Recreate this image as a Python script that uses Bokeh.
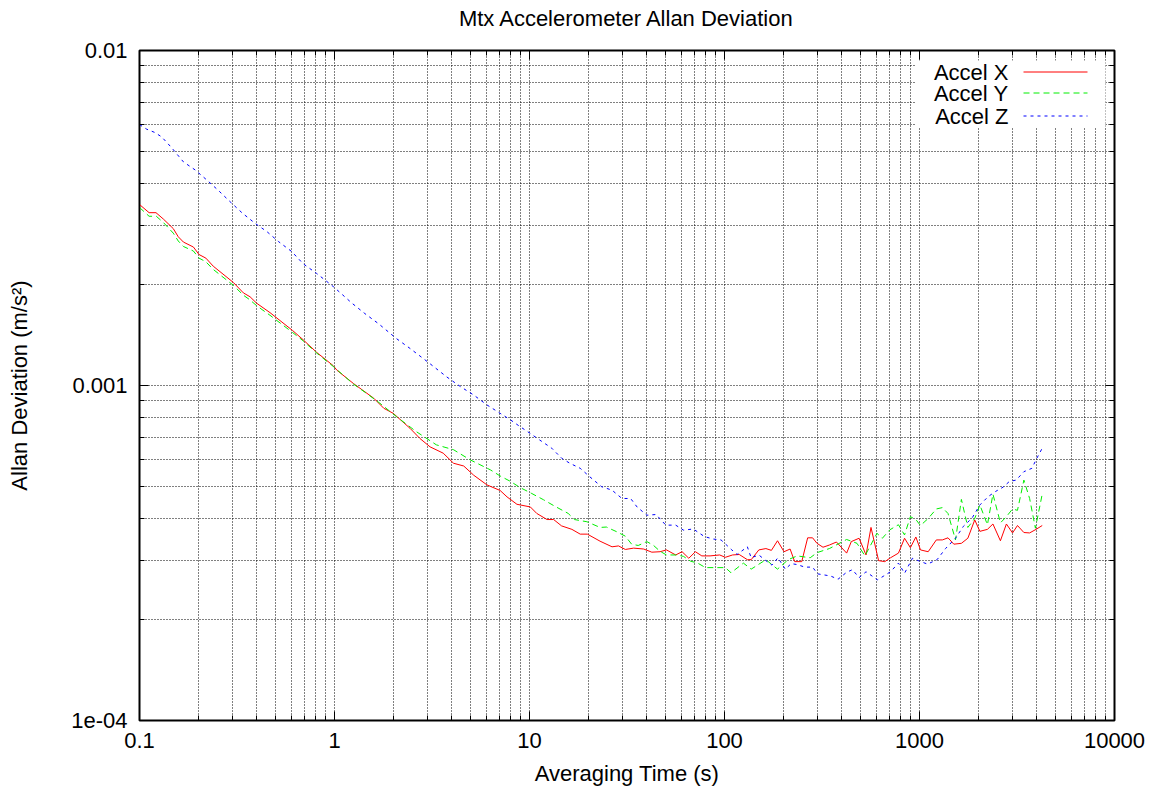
from bokeh.plotting import figure
from bokeh.models import (LogAxis, FixedTicker, CustomJSTickFormatter, Label, Arrow, Range1d,
                          BoxAnnotation)
from bokeh.embed import file_html
from bokeh.resources import INLINE

# ---------------- data ----------------
tau_x = [0.1, 0.112, 0.1215, 0.1325, 0.149, 0.158, 0.168, 0.189, 0.202, 0.219, 0.239,
         0.303, 0.341, 0.369, 0.399, 0.467, 0.609, 0.69, 0.81, 0.985, 1.03, 1.25, 1.59,
         1.79, 2.0, 2.44, 2.74, 3.09, 3.61, 4.08, 4.6, 5.17, 6.05, 7.07, 7.67, 8.62, 10.1,
         10.9, 12.3, 13.3, 14.6, 16.5, 18.2, 19.8, 23, 26.5, 28.6, 31, 34.2, 38.5, 42.4,
         46.7, 50.4, 56.2, 60.6, 65.6, 70.9, 76.5, 84.3, 94.5, 101, 110, 119, 131, 137,
         150, 163, 174, 187, 202, 217, 229, 249, 267, 283, 298, 320, 345, 375, 423, 447,
         490, 532, 564, 617, 664, 710, 780, 838, 898, 958, 1012, 1108, 1220, 1310, 1400,
         1500, 1640, 1770, 1920, 2040, 2230, 2380, 2600, 2790, 3000, 3180, 3430, 3670,
         3960, 4260]
accel_x = [0.00347, 0.00328, 0.00328, 0.00314, 0.00294, 0.00278, 0.00268, 0.00259, 0.00246,
           0.0024, 0.00227, 0.00203, 0.00189, 0.00184, 0.00176, 0.00165, 0.00146, 0.00137,
           0.001256, 0.001146, 0.00111, 0.001014, 0.000916, 0.000855, 0.000826, 0.000745,
           0.000695, 0.000656, 0.000628, 0.000586, 0.000575, 0.00054, 0.000505, 0.000486,
           0.000465, 0.000442, 0.000434, 0.000415, 0.000398, 0.000398, 0.000381, 0.000372,
           0.00036, 0.00036, 0.000343, 0.00033, 0.000332, 0.000324, 0.000327, 0.000325,
           0.000318, 0.000319, 0.000323, 0.000312, 0.000319, 0.000305, 0.000319, 0.00031,
           0.00031, 0.000312, 0.000307, 0.000312, 0.000313, 0.000302, 0.000302, 0.000323,
           0.000326, 0.000322, 0.000344, 0.000319, 0.000325, 0.000298, 0.000298, 0.000351,
           0.000351, 0.000338, 0.000329, 0.000334, 0.000341, 0.000316, 0.000342, 0.00035,
           0.000312, 0.000377, 0.0003, 0.000298, 0.000306, 0.000316, 0.00035, 0.000328,
           0.000353, 0.000323, 0.000319, 0.000346, 0.000346, 0.000351, 0.000336, 0.000338,
           0.00035, 0.000397, 0.000367, 0.000372, 0.000386, 0.000344, 0.000386, 0.000363,
           0.000382, 0.000364, 0.000363, 0.000372, 0.000382]

tau_y = [0.1, 0.112, 0.122, 0.133, 0.149, 0.158, 0.168, 0.189, 0.202, 0.219, 0.239, 0.303,
         0.341, 0.369, 0.399, 0.467, 0.609, 0.69, 0.81, 0.985, 1.25, 1.45, 1.71, 2.08, 2.63,
         3.33, 4.08, 4.96, 6.3, 7.07, 8.0, 8.94, 10.2, 11.8, 13.4, 15.8, 17.0, 19.7, 23,
         24.8, 28, 31, 33.4, 36.1, 40, 43.3, 46.7, 50.4, 57, 61.6, 66.9, 72.9, 79.9, 91.3,
         101, 108, 125, 137, 163, 187, 212, 236, 275, 298, 345, 423, 478, 525, 605, 645,
         705, 780, 838, 898, 958, 1012, 1108, 1220, 1310, 1400, 1530, 1640, 1770, 1920,
         2040, 2230, 2380, 2600, 2790, 3000, 3180, 3430, 3670, 3930, 4260]
accel_y = [0.0034, 0.0032, 0.0032, 0.00306, 0.00285, 0.0027, 0.0026, 0.00252, 0.0024,
           0.00234, 0.00222, 0.00199, 0.00186, 0.0018, 0.00173, 0.00162, 0.00144, 0.00136,
           0.00125, 0.00114, 0.00101, 0.00095, 0.000885, 0.000807, 0.000728, 0.000665,
           0.000643, 0.0006, 0.00056, 0.000537, 0.000517, 0.000496, 0.000477, 0.000456,
           0.000437, 0.000415, 0.000398, 0.000392, 0.000377, 0.000378, 0.000366, 0.000355,
           0.000336, 0.000333, 0.000342, 0.000333, 0.00032, 0.000312, 0.000312, 0.000309,
           0.000299, 0.000295, 0.000286, 0.000286, 0.000286, 0.000276, 0.000295, 0.000283,
           0.000302, 0.000283, 0.000302, 0.00031, 0.000306, 0.000317, 0.000326, 0.000347,
           0.000338, 0.00031, 0.000362, 0.00035, 0.000371, 0.000384, 0.000358, 0.000406,
           0.000398, 0.000382, 0.000401, 0.000428, 0.000432, 0.000415, 0.000346, 0.000457,
           0.000377, 0.000401, 0.00044, 0.000384, 0.000474, 0.000389, 0.000406, 0.000428,
           0.000424, 0.000522, 0.00046, 0.000375, 0.000474]

tau_z = [0.1, 0.109, 0.12, 0.13, 0.146, 0.168, 0.193, 0.221, 0.254, 0.291, 0.337, 0.391,
         0.45, 0.516, 0.604, 0.69, 0.81, 0.99, 1.23, 1.43, 1.68, 2.08, 2.44, 3.04, 3.77,
         4.44, 5.17, 6.05, 7.07, 8.0, 8.94, 10.1, 11.3, 13.0, 14.6, 16.1, 18.2, 20.3, 23.4,
         26.5, 29.8, 33, 35.6, 40, 44.6, 50, 56.2, 61.6, 69.2, 78.9, 87.8, 96, 109, 116,
         131, 137, 150, 163, 175, 188, 205, 220, 236, 258, 283, 300, 350, 382, 423, 453,
         490, 532, 608, 656, 710, 780, 838, 920, 1000, 1100, 1230, 1360, 1530, 1680, 1860,
         2040, 2250, 2460, 2680, 2890, 3130, 3430, 3770, 4000, 4260]
accel_z = [0.00601, 0.00582, 0.00569, 0.00552, 0.00513, 0.00465, 0.0044, 0.00411, 0.00382,
           0.00354, 0.00327, 0.00305, 0.00288, 0.00269, 0.00251, 0.00231, 0.00216, 0.00197,
           0.00176, 0.00164, 0.00153, 0.00138, 0.00129, 0.00117, 0.00106, 0.000991,
           0.000937, 0.000875, 0.000826, 0.000789, 0.000754, 0.000719, 0.000687, 0.00065,
           0.000607, 0.000586, 0.000566, 0.000535, 0.000499, 0.000487, 0.00046, 0.00046,
           0.000434, 0.00041, 0.000412, 0.000383, 0.000383, 0.00037, 0.000373, 0.000354,
           0.000348, 0.000346, 0.000323, 0.000313, 0.00033, 0.000306, 0.000312, 0.0003,
           0.000291, 0.000306, 0.000283, 0.000294, 0.000292, 0.000287, 0.000287, 0.000274,
           0.00027, 0.000264, 0.000277, 0.000282, 0.000267, 0.000278, 0.000263, 0.00027,
           0.000278, 0.000295, 0.000275, 0.000305, 0.000299, 0.000293, 0.000302, 0.000326,
           0.00035, 0.00038, 0.000402, 0.00044, 0.000466, 0.000483, 0.000497, 0.000517,
           0.000522, 0.000553, 0.000566, 0.000607, 0.00065]

series_names = ["Accel X", "Accel Y", "Accel Z"]
series_colors = ["#ff0000", "#00ee00", "#0000ff"]
series_dashes = ["solid", "6 4", "3 4"]

x_major = [0.1, 1, 10, 100, 1000, 10000]
y_major = [1e-4, 1e-3, 1e-2]

title_text = "Mtx Accelerometer Allan Deviation"
x_label = "Averaging Time (s)"
y_label = "Allan Deviation (m/s\u00b2)"

FONT = "Liberation Sans"
FS = "22px"

x_minor = [m * d for d in x_major[:-1] for m in range(2, 10)]
y_minor = [m * d for d in y_major[:-1] for m in range(2, 10)]

p = figure(width=1157, height=793, x_axis_type="log", y_axis_type="log",
           x_range=Range1d(0.1, 10000), y_range=Range1d(1e-4, 1e-2),
           output_backend="svg", toolbar_location=None,
           min_border_left=139, min_border_right=43, min_border_top=50,
           min_border_bottom=73, background_fill_color="white",
           border_fill_color="white")

xt = FixedTicker(ticks=x_major, minor_ticks=x_minor)
yt = FixedTicker(ticks=y_major, minor_ticks=y_minor)
xfmt = CustomJSTickFormatter(code="return String(Number(tick.toPrecision(6)));")
yfmt = CustomJSTickFormatter(code="if (tick < 5e-4) { return '1e-04'; } return String(Number(tick.toPrecision(6)));")
blank = CustomJSTickFormatter(code="return '';")


def style_axis(ax):
    ax.axis_line_color = "black"
    ax.axis_line_width = 1
    ax.major_tick_in = 9
    ax.major_tick_out = 0
    ax.minor_tick_in = 5
    ax.minor_tick_out = 0
    ax.major_tick_line_color = "black"
    ax.minor_tick_line_color = "black"
    ax.major_label_text_font = FONT
    ax.major_label_text_font_size = FS
    ax.major_label_text_color = "black"
    ax.major_label_standoff = 12
    ax.axis_label_text_font = FONT
    ax.axis_label_text_font_style = "normal"
    ax.axis_label_text_color = "black"
    ax.axis_label_text_font_size = FS


xa = p.xaxis[0]
xa.ticker = xt
xa.formatter = xfmt
xa.axis_label = x_label
style_axis(xa)
xa.axis_label_standoff = 10
ya = p.yaxis[0]
ya.ticker = yt
ya.formatter = yfmt
ya.axis_label = y_label
style_axis(ya)
ya.axis_label_standoff = 36

# mirrored top axis (ticks only); its axis label carries the chart title
top = LogAxis(ticker=xt, formatter=blank)
style_axis(top)
top.major_label_standoff = 0
top.axis_label = title_text
top.axis_label_standoff = 20
p.add_layout(top, "above")
right = LogAxis(ticker=yt, formatter=blank)
style_axis(right)
right.major_label_standoff = 0
p.add_layout(right, "right")

for g, t in ((p.xgrid[0], xt), (p.ygrid[0], yt)):
    g.ticker = t
    g.grid_line_color = "black"
    g.grid_line_dash = "1 2"
    g.grid_line_width = 1
    g.grid_line_alpha = 1.0
    g.minor_grid_line_color = "black"
    g.minor_grid_line_dash = "1 2"
    g.minor_grid_line_width = 1
    g.minor_grid_line_alpha = 1.0

p.outline_line_color = "black"
p.outline_line_width = 2

for xs, ys, c, d in ((tau_x, accel_x, series_colors[0], series_dashes[0]),
                     (tau_y, accel_y, series_colors[1], series_dashes[1]),
                     (tau_z, accel_z, series_colors[2], series_dashes[2])):
    p.line(xs, ys, line_color=c, line_width=1, line_dash=d)

# gnuplot-style key: opaque white area, text right-aligned, sample to its right
p.add_layout(BoxAnnotation(left=776, right=966, bottom=593, top=660,
                           left_units="screen", right_units="screen",
                           bottom_units="screen", top_units="screen",
                           fill_color="white", fill_alpha=1.0, line_alpha=0))
key_rows = [648.5, 627.5, 604.5]
for name, c, d, yy in zip(series_names, series_colors, series_dashes, key_rows):
    p.add_layout(Label(x=869, y=yy, x_units="screen", y_units="screen", text=name,
                       text_align="right", text_baseline="middle", text_font=FONT,
                       text_font_size=FS, text_color="black"))
    p.add_layout(Arrow(start=None, end=None, x_start=884, y_start=yy, x_end=948, y_end=yy,
                       start_units="screen", end_units="screen", line_color=c,
                       line_width=1, line_dash=d))

open("out.html", "w").write(file_html(p, INLINE))
